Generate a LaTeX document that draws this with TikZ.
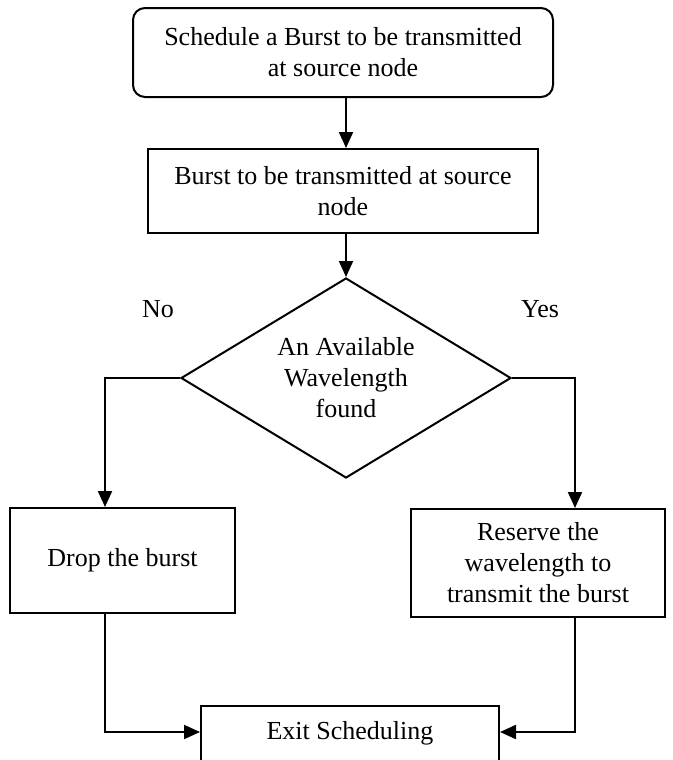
\documentclass[tikz,border=0pt]{standalone}
\usepackage{fontspec}
\setmainfont{Liberation Serif}
\usetikzlibrary{shapes.geometric,arrows.meta,positioning,calc}

\begin{document}
\begin{tikzpicture}[
  font=\fontsize{13}{15.5}\selectfont,
  line width=1pt,
  box/.style={draw, rectangle, align=center, inner sep=2pt},
  decide/.style={draw, diamond, aspect=1.65, align=center, inner sep=0pt,
    minimum width=165pt, minimum height=100pt},
  flow/.style={-{Triangle[length=8pt,width=7pt]}}
]
\useasboundingbox (0,0) rectangle (336.5pt,-380pt);
\node[box, rounded corners=6pt, minimum width=210pt, minimum height=44.5pt] (sched)
  at (171.5pt,-26.25pt) {Schedule a Burst to be transmitted\\at source node};
\node[box, minimum width=195pt, minimum height=42pt, below=25pt of sched] (burst)
  {Burst to be transmitted at source\\node};
\node[decide, below=21.5pt of burst, xshift=1.5pt] (avail)
  {An Available\\Wavelength\\found};
\node[box, minimum width=112.5pt, minimum height=52.5pt] (drop)
  at (61.25pt,-280.25pt) {Drop the burst};
\node[box, minimum width=127pt, minimum height=54pt] (reserve)
  at (269pt,-281.5pt) {Reserve the\\wavelength to\\transmit the burst};
\node[box, minimum width=149pt, minimum height=40pt, anchor=north] (exitsch)
  at (175pt,-352.5pt) {};
\node at (175pt,-366.5pt) {Exit Scheduling};
\draw[flow] (sched.south -| avail.north) -- (burst.north -| avail.north);
\draw[flow] (burst.south -| avail.north) -- (avail.north);
\draw[flow] (avail.west) -| ([xshift=-8.75pt]drop.north);
\draw[flow] (avail.east) -| ([xshift=18.5pt]reserve.north);
\draw[flow] ([xshift=-8.75pt]drop.south) |- ([yshift=7pt]exitsch.west);
\draw[flow] ([xshift=18.5pt]reserve.south) |- ([yshift=7pt]exitsch.east);
\node at ([shift={(-11pt,34.5pt)}]avail.west) (nolbl) {No};
\node at ([shift={(14pt,34.5pt)}]avail.east) (yeslbl) {Yes};
\end{tikzpicture}
\end{document}
